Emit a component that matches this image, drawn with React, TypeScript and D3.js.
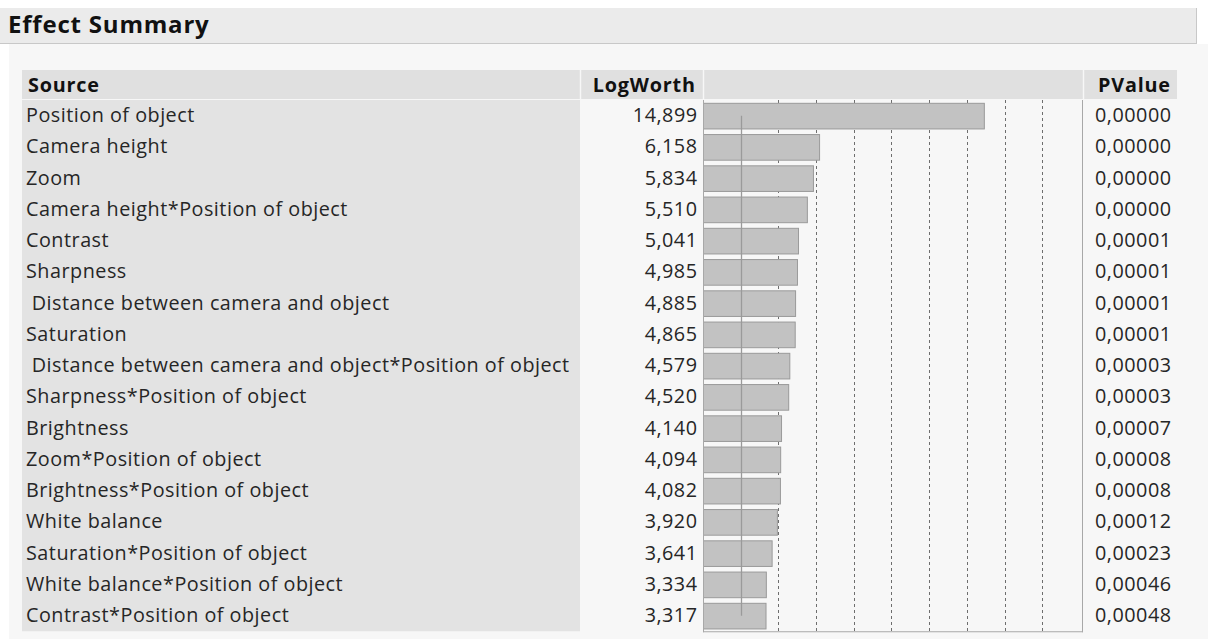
import React from "react";
import * as d3 from "d3";

const sources = [
  "Position of object",
  "Camera height",
  "Zoom",
  "Camera height*Position of object",
  "Contrast",
  "Sharpness",
  " Distance between camera and object",
  "Saturation",
  " Distance between camera and object*Position of object",
  "Sharpness*Position of object",
  "Brightness",
  "Zoom*Position of object",
  "Brightness*Position of object",
  "White balance",
  "Saturation*Position of object",
  "White balance*Position of object",
  "Contrast*Position of object",
];
const logWorth = [
  14.899, 6.158, 5.834, 5.51, 5.041, 4.985, 4.885, 4.865, 4.579, 4.52, 4.14,
  4.094, 4.082, 3.92, 3.641, 3.334, 3.317,
];
const pValues = [
  "0,00000", "0,00000", "0,00000", "0,00000", "0,00001", "0,00001", "0,00001",
  "0,00001", "0,00003", "0,00003", "0,00007", "0,00008", "0,00008", "0,00012",
  "0,00023", "0,00046", "0,00048",
];
const gridTicks = [4, 6, 8, 10, 12, 14, 16, 18];
const refLine = 2;

const FONT = "'Open Sans', 'Noto Sans', sans-serif";

export default function App() {
  const W = 1208;
  const H = 639;
  const barX0 = 703;
  const barX1 = 1083;
  const headTop = 70;
  const bodyTop = 100;
  const rowH = 31.25;
  const bodyBottom = bodyTop + rowH * sources.length;
  const LS = 0.5;
  const HLS = 0.8;

  const x = d3.scaleLinear().domain([0, 20.16]).range([barX0, barX1]);
  const y = d3
    .scaleBand<number>()
    .domain(d3.range(sources.length))
    .range([bodyTop, bodyBottom])
    .paddingInner(0.18)
    .paddingOuter(0.09);
  const rowY = d3
    .scaleBand<number>()
    .domain(d3.range(sources.length))
    .range([bodyTop, bodyBottom]);
  const fmt = (v: number) => d3.format(".3f")(v).replace(".", ",");

  return (
    <svg
      width={W}
      height={H}
      style={{ position: "absolute", left: 0, top: 0, display: "block" }}
      fontFamily={FONT}
    >
      <rect x={0} y={0} width={W} height={H} fill="#ffffff" />
      <rect x={9} y={44} width={W - 9} height={H - 44} fill="#f7f7f7" />
      {/* Title bar */}
      <rect x={0} y={8} width={1197} height={35} fill="#ebebeb" />
      <line x1={0} x2={1197} y1={43.5} y2={43.5} stroke="#c8c8c8" />
      <line x1={1196.5} x2={1196.5} y1={8} y2={44} stroke="#c8c8c8" />
      <text x={8} y={32.5} fontSize={24} fontWeight={700} fill="#111" letterSpacing={0.8}>
        Effect Summary
      </text>

      {/* Header row */}
      <rect x={22} y={headTop} width={1155} height={bodyTop - headTop - 1} fill="#e0e0e0" />
      <line x1={580.5} x2={580.5} y1={headTop} y2={bodyTop} stroke="#f7f7f7" strokeWidth={1.5} />
      <line x1={703.5} x2={703.5} y1={headTop} y2={bodyTop} stroke="#f7f7f7" strokeWidth={1.5} />
      <line x1={1083.5} x2={1083.5} y1={headTop} y2={bodyTop} stroke="#f7f7f7" strokeWidth={1.5} />
      <g fontSize={19.8} fontWeight={700} fill="#111" letterSpacing={HLS}>
        <text x={28} y={92}>Source</text>
        <text x={695 + HLS} y={92} textAnchor="end">LogWorth</text>
        <text x={1170 + HLS} y={92} textAnchor="end">PValue</text>
      </g>

      {/* Source column body */}
      <rect x={22} y={bodyTop} width={558} height={bodyBottom - bodyTop} fill="#e3e3e3" />

      {/* Grid lines */}
      {gridTicks.map((t) => (
        <line
          key={t}
          x1={Math.round(x(t)) + 0.5}
          x2={Math.round(x(t)) + 0.5}
          y1={bodyTop}
          y2={bodyBottom}
          stroke="#6e6e6e"
          strokeDasharray="3,3"
        />
      ))}

      {/* Bars */}
      {logWorth.map((v, i) => (
        <rect
          key={i}
          x={x(0) + 0.5}
          y={(y(i) as number) + 0.5}
          width={x(v) - x(0)}
          height={y.bandwidth()}
          fill="#c2c2c2"
          stroke="#9a9a9a"
        />
      ))}

      {/* Reference line at 2 */}
      <line
        x1={Math.round(x(refLine)) + 0.5}
        x2={Math.round(x(refLine)) + 0.5}
        y1={(rowY(0) as number) + rowH / 2}
        y2={(rowY(sources.length - 1) as number) + rowH / 2}
        stroke="#9a9a9a"
        strokeWidth={1.3}
      />

      {/* Frame of bar area */}
      <line x1={barX0 + 0.5} x2={barX0 + 0.5} y1={bodyTop} y2={bodyBottom + 1} stroke="#a8a8a8" />
      <line x1={barX1 - 0.5} x2={barX1 - 0.5} y1={bodyTop} y2={bodyBottom + 1} stroke="#a8a8a8" />
      <line x1={barX0} x2={barX1} y1={bodyBottom + 0.5} y2={bodyBottom + 0.5} stroke="#a8a8a8" />

      {/* Row texts */}
      {sources.map((s, i) => {
        const cy = (rowY(i) as number) + rowH / 2 + 6.5;
        return (
          <g key={i} fontSize={19.8} fill="#262626" letterSpacing={LS}>
            <text x={26} y={cy} style={{ whiteSpace: "pre" }}>{s}</text>
            <text x={697 + LS} y={cy} textAnchor="end">{fmt(logWorth[i])}</text>
            <text x={1171 + LS} y={cy} textAnchor="end">{pValues[i]}</text>
          </g>
        );
      })}
    </svg>
  );
}
